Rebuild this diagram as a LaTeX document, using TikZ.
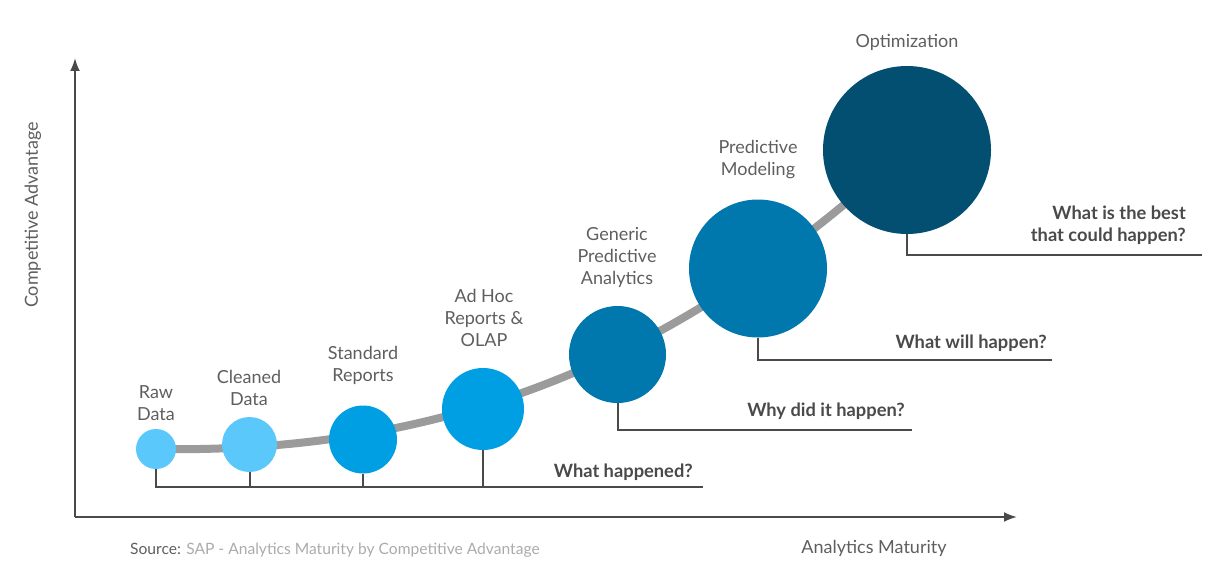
\documentclass[tikz,border=0pt]{standalone}
\usepackage{fontspec}
\setmainfont{Lato}
\usetikzlibrary{arrows.meta}

\definecolor{skyA}{HTML}{5AC8FA}
\definecolor{skyB}{HTML}{009FE3}
\definecolor{seaA}{HTML}{0077AD}
\definecolor{navyA}{HTML}{024F71}
\definecolor{lineg}{HTML}{4A4A4A}
\definecolor{pathg}{HTML}{9B9B9B}
\definecolor{txtg}{HTML}{5E5E5E}
\definecolor{srcg}{HTML}{ABABAB}

\begin{document}
\begin{tikzpicture}[x=1pt,y=-1pt,
		stage/.style={circle, inner sep=0pt, minimum size=#1},
		stagetext/.style={align=center, text=txtg, font=\fontsize{18}{22}\selectfont},
		question/.style={align=right, text=lineg, inner sep=0pt, font=\fontsize{18.3}{22}\selectfont\bfseries},
		conn/.style={draw=lineg, line width=2pt},
		axis/.style={draw=lineg, line width=2pt, -{Latex[length=13pt,width=10pt]}}]
			\useasboundingbox (0,0) rectangle (1223,578);
			% axes
			\coordinate (o) at (75,517);
			\coordinate (ytip) at (75,58);
			\coordinate (xtip) at (1017,517);
			\draw[axis] (o) -- (ytip);
			\draw[axis] (o) -- (xtip);
			\node[stagetext, rotate=90] (ylab) at (33,215) {Competitive Advantage};
			\node[stagetext] (xlab) at (874,548) {Analytics Maturity};
			\node[anchor=west, inner sep=0pt, font=\fontsize{15.6}{18}\selectfont] (src) at (130,550)
				{\textcolor{txtg}{Source:} \textcolor{srcg}{SAP - Analytics Maturity by Competitive Advantage}};
			% growth path
			\coordinate (p1) at (156,449);
			\coordinate (p2) at (249.5,444.5);
			\coordinate (p3) at (363,439.5);
			\coordinate (p4) at (483,409);
			\coordinate (p5) at (617.5,354.5);
			\coordinate (p6) at (758,268.5);
			\coordinate (p7) at (907,150);
			\coordinate (k1) at (500,455);
			\coordinate (k2) at (720,320);
			\draw[pathg, line width=8pt] (p1) .. controls (k1) and (k2) .. (p7);
			% stages
			\node[stage=40pt, fill=skyA] (c1) at (p1) {};
			\node[stage=55pt, fill=skyA] (c2) at (p2) {};
			\node[stage=68pt, fill=skyB] (c3) at (p3) {};
			\node[stage=82pt, fill=skyB] (c4) at (p4) {};
			\node[stage=97pt, fill=seaA] (c5) at (p5) {};
			\node[stage=138pt, fill=seaA] (c6) at (p6) {};
			\node[stage=168pt, fill=navyA] (c7) at (p7) {};
			\node[stagetext] (t1) at (156,403) {Raw\\Data};
			\node[stagetext] (t2) at (249,388) {Cleaned\\Data};
			\node[stagetext] (t3) at (363,365) {Standard\\Reports};
			\node[stagetext] (t4) at (484,318) {Ad Hoc\\Reports \&\\OLAP};
			\node[stagetext] (t5) at (617,257) {Generic\\Predictive\\Analytics};
			\node[stagetext] (t6) at (758,160) {Predictive\\Modeling};
			\node[stagetext] (t7) at (907,42) {Optimization};
			% questions
			\coordinate (h1) at (703,487);
			\coordinate (h2) at (912,430);
			\coordinate (h3) at (1052,360);
			\coordinate (h4) at (1202,255);
			\draw[conn] (c1.south) |- (h1);
			\draw[conn] (c2.south) -- (c2.south |- h1);
			\draw[conn] (c3.south) -- (c3.south |- h1);
			\draw[conn] (c4.south) -- (c4.south |- h1);
			\draw[conn] (c5.south) |- (h2);
			\draw[conn] (c6.south) |- (h3);
			\draw[conn] (c7.south) |- (h4);
			\node[question, anchor=base east] (q1) at (693,477) {What happened?};
			\node[question, anchor=base east] (q2) at (905,416) {Why did it happen?};
			\node[question, anchor=base east] (q3) at (1047,348) {What will happen?};
			\node[question, anchor=south east] (q4) at (1186,245) {What is the best\\that could happen?};
		\end{tikzpicture}
\end{document}
